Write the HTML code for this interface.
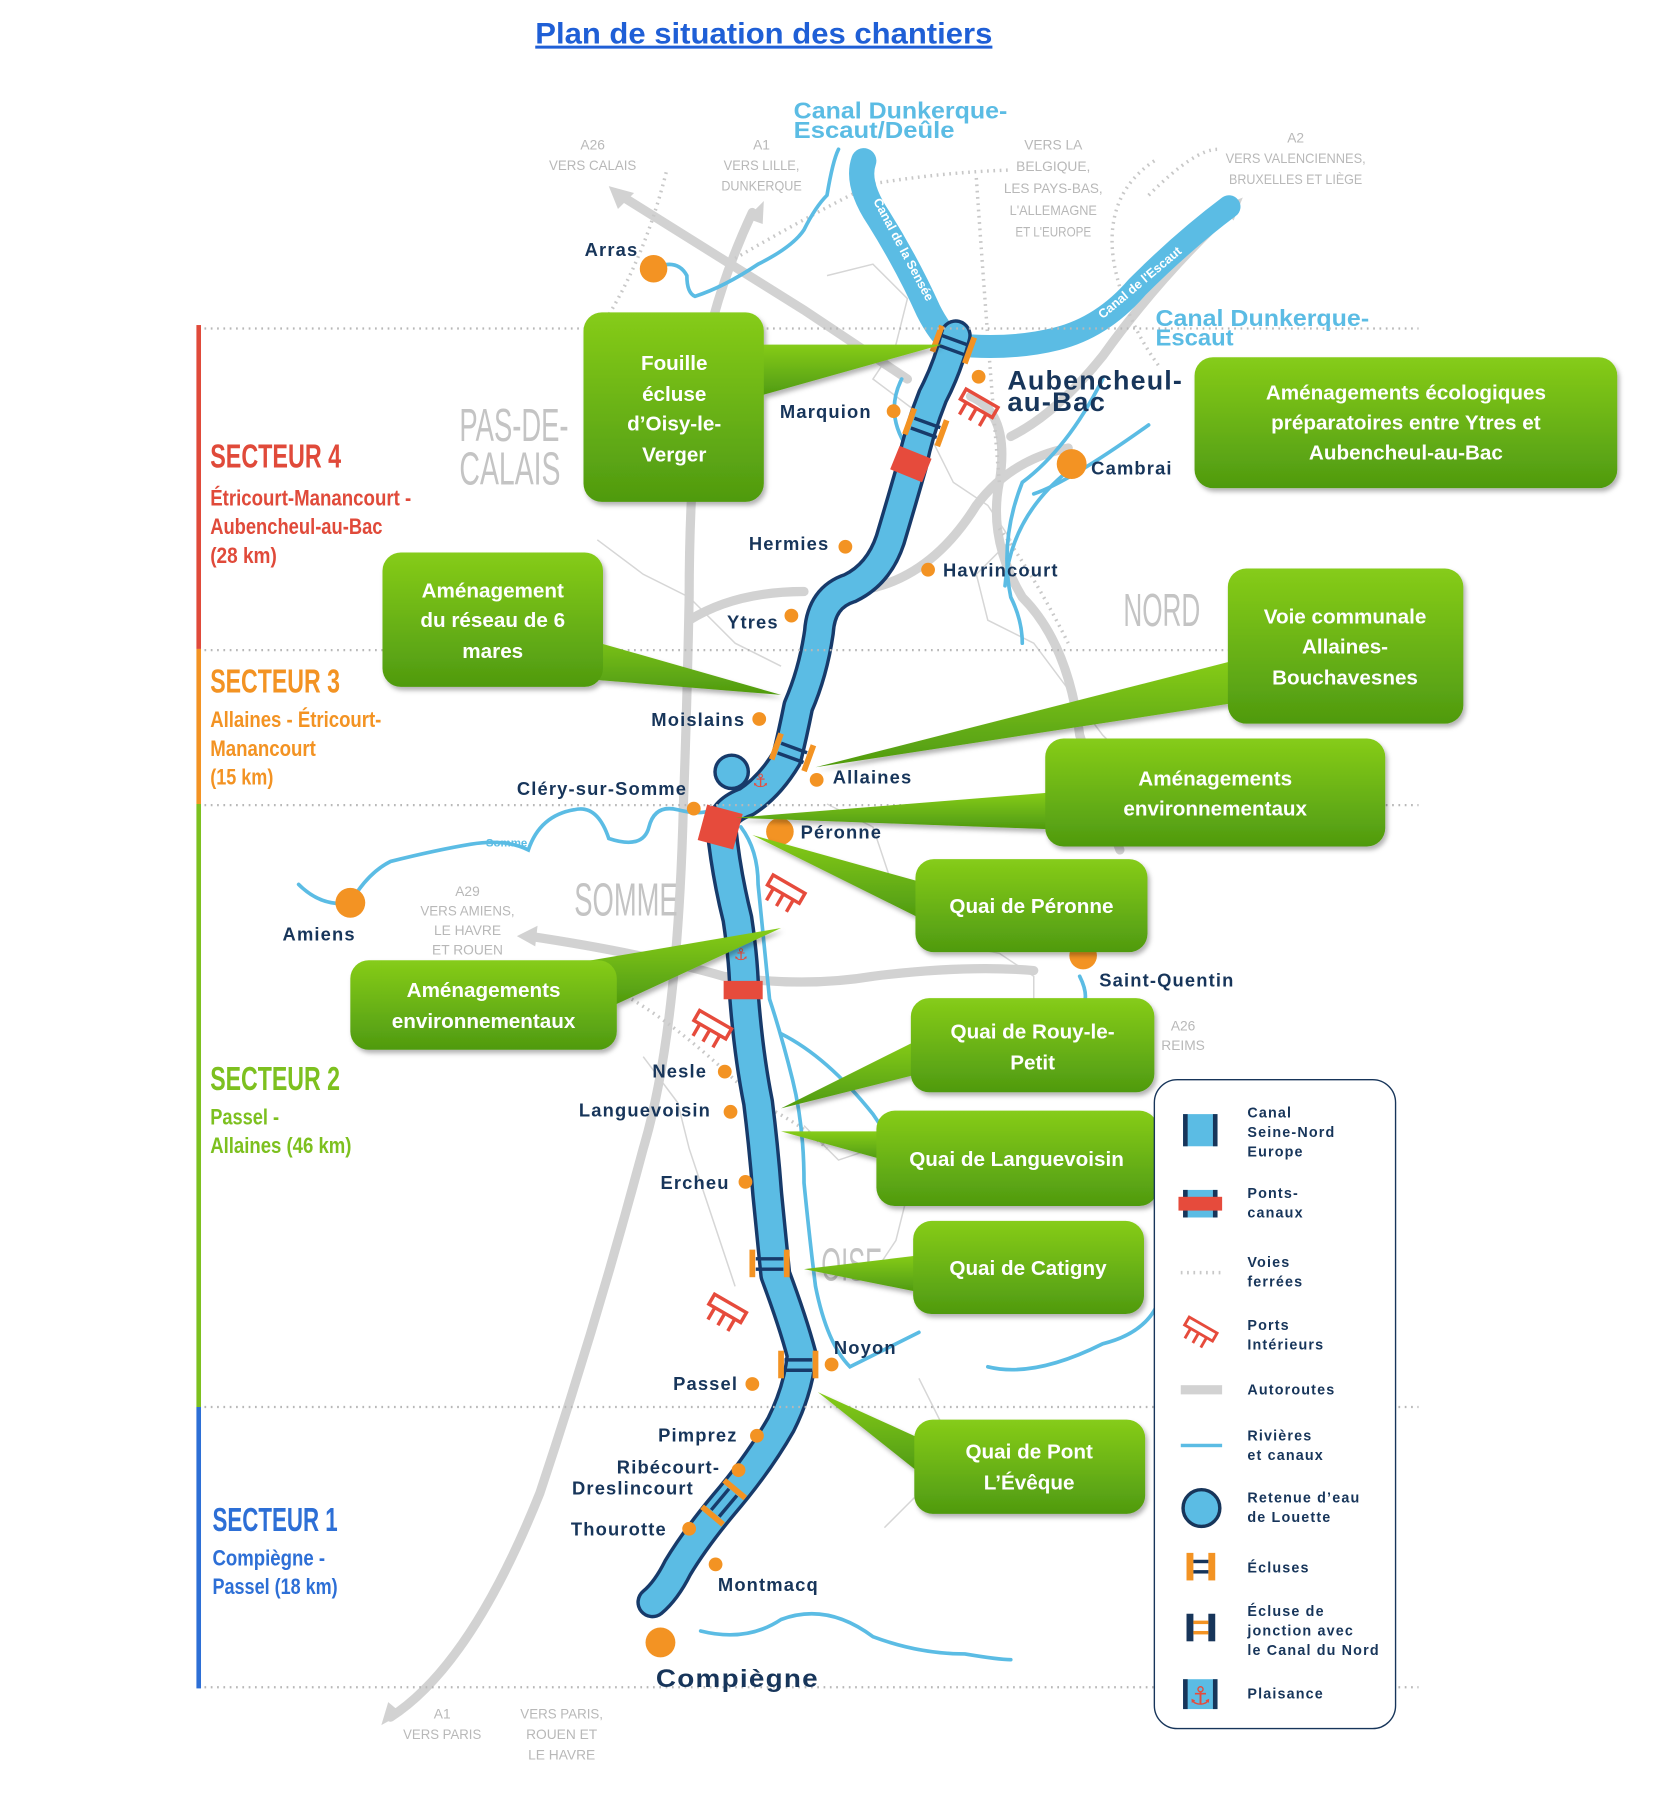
<!DOCTYPE html>
<html><head><meta charset="utf-8"><style>
html,body{margin:0;padding:0;background:#fff;}
svg{display:block;}
.city{font-family:"Liberation Sans",sans-serif;font-weight:bold;font-size:16px;fill:#17355a;letter-spacing:1px;}
.cw{font-family:"Liberation Sans",sans-serif;font-weight:bold;font-size:18px;fill:#fff;text-anchor:middle;}
.gl{font-family:"Liberation Sans",sans-serif;fill:#b8b8b8;font-size:12px;text-anchor:middle;}
.big{font-family:"Liberation Sans",sans-serif;fill:#c4c4c4;font-size:40px;}
.sec{font-family:"Liberation Sans",sans-serif;font-weight:bold;font-size:29px;}
.sub{font-family:"Liberation Sans",sans-serif;font-weight:bold;font-size:19px;}
.lg{font-family:"Liberation Sans",sans-serif;font-weight:bold;font-size:12.5px;fill:#17355a;letter-spacing:1px;}
.bl{font-family:"Liberation Sans",sans-serif;font-weight:bold;fill:#5bbce4;}
</style></head><body>
<svg width="1654" height="1809" viewBox="0 0 1440 1575" preserveAspectRatio="none" xmlns="http://www.w3.org/2000/svg">
<defs>
<linearGradient id="g" x1="0" y1="0" x2="0" y2="1"><stop offset="0" stop-color="#86cc1a"/><stop offset="1" stop-color="#4f9a10"/></linearGradient>
<filter id="sh" x="-10%" y="-10%" width="130%" height="130%"><feDropShadow dx="2" dy="3" stdDeviation="2" flood-color="#000" flood-opacity="0.3"/></filter>
</defs>
<text x="665" y="38" text-anchor="middle" font-family="Liberation Sans,sans-serif" font-weight="bold" font-size="26" fill="#1f5fd6" text-decoration="underline" textLength="398" lengthAdjust="spacingAndGlyphs">Plan de situation des chantiers</text>

<g fill="none" stroke="#d6d6d6" stroke-width="1.3">
<path d="M720 240 L760 230 L790 260 L780 300 L760 330 L800 360 L830 420 L860 440 L880 470 L850 500 L860 540 L900 560 L930 600 L960 640 L1000 680 L1040 700"/>
<path d="M520 470 L560 500 L600 520 L640 560 L680 580"/>
<path d="M720 700 L760 720 L780 780 L820 820 L870 830 L900 850 L900 880"/>
<path d="M700 980 L730 1010 L760 1000 L790 1040 L780 1080 L760 1110"/>
<path d="M800 1200 L820 1240 L800 1300 L770 1330"/>
<path d="M560 920 L590 960 L600 1000 L620 1060 L640 1120"/>
</g>

<g fill="none" stroke="#d2d2d2" stroke-width="8" stroke-linecap="round">
<path d="M540 170 Q620 220 700 270 Q760 310 790 330"/>
<path d="M655 185 Q620 260 610 330 Q600 420 600 520 Q598 620 595 700 Q590 900 560 1000 Q520 1150 470 1300 Q410 1450 340 1495"/>
<path d="M845 345 Q880 360 870 420 Q860 470 890 520 Q930 560 940 640 Q960 700 975 740"/>
<path d="M700 515 Q640 515 600 540"/>
<path d="M720 515 Q800 520 850 440 Q880 400 930 390"/>
<path d="M1075 180 Q1010 240 960 310 Q920 360 880 380"/>
<path d="M460 815 Q560 830 630 850 Q700 860 760 850 Q840 840 900 845"/>
</g>
<g fill="#d2d2d2"><path d="M530 162 L552 168 L538 182 Z"/><path d="M665 175 L650 190 L664 195 Z"/><path d="M1082 172 L1062 180 L1074 192 Z"/><path d="M450 815 L468 806 L466 824 Z"/><path d="M332 1502 L338 1482 L350 1492 Z"/></g>

<g fill="none" stroke="#c8c8c8" stroke-width="3" stroke-dasharray="1.5 4">
<path d="M580 150 Q560 230 520 290"/>
<path d="M640 225 Q700 190 760 160 Q820 150 880 148"/>
<path d="M850 155 Q860 300 870 420"/>
<path d="M1005 140 Q960 170 970 230 Q980 280 1010 320"/>
<path d="M1000 170 Q1040 130 1060 130"/>
<path d="M870 460 Q900 500 930 560"/>
<path d="M550 870 Q600 900 660 960 Q700 980 720 1000"/>
</g>

<g fill="none" stroke="#5bbce4" stroke-width="3.2" stroke-linecap="round">
<path d="M570 233 Q590 225 598 240 Q598 255 605 258 Q630 250 660 230 Q690 215 700 200 Q710 180 720 170 Q725 140 730 130"/>
<path d="M260 770 Q280 790 305 786 Q320 760 340 750 Q380 740 410 735 Q440 730 460 740 Q470 710 500 705 Q520 700 530 730 Q560 740 565 720 Q570 700 590 705 Q610 710 620 705"/>
<path d="M785 330 Q770 360 790 390 Q780 420 790 440"/>
<path d="M960 330 Q930 390 890 420 Q870 470 880 520 Q890 540 890 560"/>
<path d="M1000 370 Q930 420 900 430"/>
<path d="M930 410 Q880 450 875 510"/>
<path d="M645 720 Q660 740 660 770 Q665 820 670 870 Q680 900 690 940 Q700 980 700 1030 Q705 1080 710 1120 Q720 1170 740 1190 Q780 1170 800 1160"/>
<path d="M680 900 Q720 920 760 970 Q780 1000 790 1010"/>
<path d="M940 850 Q950 870 940 880"/>
<path d="M610 1420 Q650 1430 680 1410 Q720 1395 760 1425 Q800 1440 840 1440 Q870 1445 880 1445"/>
<path d="M1010 1130 Q1000 1160 960 1170 Q900 1200 860 1190"/>
</g>

<g fill="none" stroke-linecap="round">
<path d="M752 140 Q745 160 765 190 Q790 230 808 270 Q818 290 830 300" stroke="#5bbce4" stroke-width="22"/>
<path d="M830 300 Q880 305 920 295 Q960 285 990 250 Q1030 210 1070 180" stroke="#5bbce4" stroke-width="20"/>
</g>
<text class="bl" font-size="11" transform="translate(760 175) rotate(62)" style="fill:#fff">Canal de la Sensée</text>
<text class="bl" font-size="11" transform="translate(960 278) rotate(-40)" style="fill:#fff">Canal de l'Escaut</text>

<path d="M832 292 Q825 320 812 345 Q800 375 794 405 Q784 440 775 470 Q765 500 740 512 Q715 520 713 550 Q708 585 695 615 Q690 640 685 660 Q670 685 650 698 Q630 705 628 720 Q632 760 642 800 Q648 840 648 870 Q652 920 660 960 Q665 1000 668 1040 Q672 1080 675 1110 Q690 1150 698 1180 Q695 1210 680 1240 Q660 1275 630 1310 Q605 1340 590 1365 Q580 1385 568 1395" fill="none" stroke="#173a6a" stroke-width="28" stroke-linecap="round" stroke-linejoin="round"/>
<circle cx="637" cy="672" r="16" fill="#173a6a"/>
<path d="M832 292 Q825 320 812 345 Q800 375 794 405 Q784 440 775 470 Q765 500 740 512 Q715 520 713 550 Q708 585 695 615 Q690 640 685 660 Q670 685 650 698 Q630 705 628 720 Q632 760 642 800 Q648 840 648 870 Q652 920 660 960 Q665 1000 668 1040 Q672 1080 675 1110 Q690 1150 698 1180 Q695 1210 680 1240 Q660 1275 630 1310 Q605 1340 590 1365 Q580 1385 568 1395" fill="none" stroke="#5bbce4" stroke-width="22" stroke-linecap="round" stroke-linejoin="round"/>
<circle cx="637" cy="672" r="13" fill="#5bbce4"/>
<text class="bl" font-size="11" transform="translate(545 1425) rotate(-50)" style="fill:#fff">Oise</text>

<g stroke-width="5">
<g transform="translate(830 300) rotate(20)"><line x1="-15" y1="-12" x2="-15" y2="12" stroke="#f39323"/><line x1="15" y1="-12" x2="15" y2="12" stroke="#f39323"/><line x1="-12" y1="-4" x2="12" y2="-4" stroke="#173a6a" stroke-width="3"/><line x1="-12" y1="5" x2="12" y2="5" stroke="#173a6a" stroke-width="3"/></g>
<g transform="translate(806 372) rotate(20)"><line x1="-15" y1="-12" x2="-15" y2="12" stroke="#f39323"/><line x1="15" y1="-12" x2="15" y2="12" stroke="#f39323"/><line x1="-12" y1="-4" x2="12" y2="-4" stroke="#173a6a" stroke-width="3"/><line x1="-12" y1="5" x2="12" y2="5" stroke="#173a6a" stroke-width="3"/></g>
<g transform="translate(690 655) rotate(20)"><line x1="-15" y1="-12" x2="-15" y2="12" stroke="#f39323"/><line x1="15" y1="-12" x2="15" y2="12" stroke="#f39323"/><line x1="-12" y1="-4" x2="12" y2="-4" stroke="#173a6a" stroke-width="3"/><line x1="-12" y1="5" x2="12" y2="5" stroke="#173a6a" stroke-width="3"/></g>
<g transform="translate(670 1100)"><line x1="-15" y1="-12" x2="-15" y2="12" stroke="#f39323"/><line x1="15" y1="-12" x2="15" y2="12" stroke="#f39323"/><line x1="-12" y1="-4" x2="12" y2="-4" stroke="#173a6a" stroke-width="3"/><line x1="-12" y1="5" x2="12" y2="5" stroke="#173a6a" stroke-width="3"/></g>
<g transform="translate(695 1188)"><line x1="-15" y1="-12" x2="-15" y2="12" stroke="#f39323"/><line x1="15" y1="-12" x2="15" y2="12" stroke="#f39323"/><line x1="-12" y1="-4" x2="12" y2="-4" stroke="#173a6a" stroke-width="3"/><line x1="-12" y1="5" x2="12" y2="5" stroke="#173a6a" stroke-width="3"/></g>
<g transform="translate(630 1308) rotate(-50)"><line x1="-15" y1="-12" x2="-15" y2="12" stroke="#f39323"/><line x1="15" y1="-12" x2="15" y2="12" stroke="#f39323"/><line x1="-12" y1="-4" x2="12" y2="-4" stroke="#173a6a" stroke-width="3"/><line x1="-12" y1="5" x2="12" y2="5" stroke="#173a6a" stroke-width="3"/></g>
</g>
<rect x="-15" y="-11" width="30" height="22" fill="#e64b3c" transform="translate(793 404) rotate(22)"/>
<rect x="-16" y="-16" width="32" height="32" fill="#e64b3c" transform="translate(627 720) rotate(15)"/>
<rect x="-17" y="-8" width="34" height="16" fill="#e64b3c" transform="translate(647 862)"/>
<text x="662" y="685" font-size="16" fill="#e64b3c" text-anchor="middle" font-family="DejaVu Sans,sans-serif">⚓</text>
<text x="645" y="836" font-size="14" fill="#e64b3c" text-anchor="middle" font-family="DejaVu Sans,sans-serif">⚓</text>
<g fill="none" stroke="#e64b3c" stroke-width="3">
<g transform="translate(852 352) rotate(30)"><rect x="-16" y="-6" width="32" height="10"/><line x1="-10" y1="4" x2="-10" y2="16"/><line x1="0" y1="4" x2="0" y2="16"/><line x1="10" y1="4" x2="10" y2="16"/></g>
<g transform="translate(684 775) rotate(30)"><rect x="-16" y="-6" width="32" height="10"/><line x1="-10" y1="4" x2="-10" y2="16"/><line x1="0" y1="4" x2="0" y2="16"/><line x1="10" y1="4" x2="10" y2="16"/></g>
<g transform="translate(620 893) rotate(30)"><rect x="-16" y="-6" width="32" height="10"/><line x1="-10" y1="4" x2="-10" y2="16"/><line x1="0" y1="4" x2="0" y2="16"/><line x1="10" y1="4" x2="10" y2="16"/></g>
<g transform="translate(633 1140) rotate(30)"><rect x="-16" y="-6" width="32" height="10"/><line x1="-10" y1="4" x2="-10" y2="16"/><line x1="0" y1="4" x2="0" y2="16"/><line x1="10" y1="4" x2="10" y2="16"/></g>
</g>

<text class="gl" x="516" y="130">A26</text><text class="gl" x="516" y="148" textLength="76" lengthAdjust="spacingAndGlyphs">VERS CALAIS</text>
<text class="gl" x="663" y="130">A1</text><text class="gl" x="663" y="148" textLength="66" lengthAdjust="spacingAndGlyphs">VERS LILLE,</text><text class="gl" x="663" y="166" textLength="70" lengthAdjust="spacingAndGlyphs">DUNKERQUE</text>
<text class="gl" x="917" y="130">VERS LA</text><text class="gl" x="917" y="149">BELGIQUE,</text><text class="gl" x="917" y="168" textLength="86" lengthAdjust="spacingAndGlyphs">LES PAYS-BAS,</text><text class="gl" x="917" y="187" textLength="76" lengthAdjust="spacingAndGlyphs">L'ALLEMAGNE</text><text class="gl" x="917" y="206" textLength="66" lengthAdjust="spacingAndGlyphs">ET L'EUROPE</text>
<text class="gl" x="1128" y="124">A2</text><text class="gl" x="1128" y="142" textLength="122" lengthAdjust="spacingAndGlyphs">VERS VALENCIENNES,</text><text class="gl" x="1128" y="160" textLength="116" lengthAdjust="spacingAndGlyphs">BRUXELLES ET LIÈGE</text>
<text class="gl" x="407" y="780">A29</text><text class="gl" x="407" y="797" textLength="82" lengthAdjust="spacingAndGlyphs">VERS AMIENS,</text><text class="gl" x="407" y="814">LE HAVRE</text><text class="gl" x="407" y="831">ET ROUEN</text>
<text class="gl" x="1030" y="897">A26</text><text class="gl" x="1030" y="914">REIMS</text>
<text class="gl" x="385" y="1496">A1</text><text class="gl" x="385" y="1514" textLength="68" lengthAdjust="spacingAndGlyphs">VERS PARIS</text>
<text class="gl" x="489" y="1496" textLength="72" lengthAdjust="spacingAndGlyphs">VERS PARIS,</text><text class="gl" x="489" y="1514">ROUEN ET</text><text class="gl" x="489" y="1532">LE HAVRE</text>
<text class="big" x="400" y="384" textLength="95" lengthAdjust="spacingAndGlyphs">PAS-DE-</text><text class="big" x="400" y="422" textLength="88" lengthAdjust="spacingAndGlyphs">CALAIS</text>
<text class="big" x="978" y="545" textLength="67" lengthAdjust="spacingAndGlyphs">NORD</text>
<text class="big" x="500" y="797" textLength="90" lengthAdjust="spacingAndGlyphs">SOMME</text>
<text class="big" x="715" y="1115" textLength="53" lengthAdjust="spacingAndGlyphs">OISE</text>
<text class="bl" x="691" y="103" font-size="20" textLength="186" lengthAdjust="spacingAndGlyphs">Canal Dunkerque-</text><text class="bl" x="691" y="120" font-size="20" textLength="140" lengthAdjust="spacingAndGlyphs">Escaut/Deûle</text>
<text class="bl" x="1006" y="284" font-size="20" textLength="186" lengthAdjust="spacingAndGlyphs">Canal Dunkerque-</text><text class="bl" x="1006" y="301" font-size="20" textLength="68" lengthAdjust="spacingAndGlyphs">Escaut</text>
<text class="bl" x="423" y="737" font-size="10">Somme</text>

<rect x="171" y="283" width="4" height="282" fill="#e04a3a"/>
<rect x="171" y="565" width="4" height="135" fill="#f39323"/>
<rect x="171" y="700" width="4" height="525" fill="#7dc01f"/>
<rect x="171" y="1225" width="4" height="245" fill="#2d6fd6"/>
<g stroke="#b8b8b8" stroke-width="2" stroke-dasharray="1.5 4">
<line x1="178" y1="286" x2="1235" y2="286"/><line x1="178" y1="566" x2="1235" y2="566"/>
<line x1="178" y1="701" x2="1235" y2="701"/><line x1="178" y1="1225" x2="1235" y2="1225"/><line x1="178" y1="1469" x2="1235" y2="1469"/>
</g>
<g lengthAdjust="spacingAndGlyphs">
<text class="sec" x="183" y="407" fill="#e04a3a" textLength="114" lengthAdjust="spacingAndGlyphs">SECTEUR 4</text>
<text class="sub" x="183" y="440" fill="#e04a3a" textLength="175" lengthAdjust="spacingAndGlyphs">Étricourt-Manancourt -</text><text class="sub" x="183" y="465" fill="#e04a3a" textLength="150" lengthAdjust="spacingAndGlyphs">Aubencheul-au-Bac</text><text class="sub" x="183" y="490" fill="#e04a3a" textLength="58" lengthAdjust="spacingAndGlyphs">(28 km)</text>
<text class="sec" x="183" y="603" fill="#f39323" textLength="113" lengthAdjust="spacingAndGlyphs">SECTEUR 3</text>
<text class="sub" x="183" y="633" fill="#f39323" textLength="149" lengthAdjust="spacingAndGlyphs">Allaines - Étricourt-</text><text class="sub" x="183" y="658" fill="#f39323" textLength="92" lengthAdjust="spacingAndGlyphs">Manancourt</text><text class="sub" x="183" y="683" fill="#f39323" textLength="55" lengthAdjust="spacingAndGlyphs">(15 km)</text>
<text class="sec" x="183" y="949" fill="#7dc01f" textLength="113" lengthAdjust="spacingAndGlyphs">SECTEUR 2</text>
<text class="sub" x="183" y="979" fill="#7dc01f" textLength="60" lengthAdjust="spacingAndGlyphs">Passel -</text><text class="sub" x="183" y="1004" fill="#7dc01f" textLength="123" lengthAdjust="spacingAndGlyphs">Allaines (46 km)</text>
<text class="sec" x="185" y="1333" fill="#2d6fd6" textLength="109" lengthAdjust="spacingAndGlyphs">SECTEUR 1</text>
<text class="sub" x="185" y="1363" fill="#2d6fd6" textLength="98" lengthAdjust="spacingAndGlyphs">Compiègne -</text><text class="sub" x="185" y="1388" fill="#2d6fd6" textLength="109" lengthAdjust="spacingAndGlyphs">Passel (18 km)</text>
</g>

<g fill="#f39323">
<circle cx="569" cy="234" r="12"/><circle cx="852" cy="328" r="6"/><circle cx="778" cy="358" r="6"/><circle cx="933" cy="404" r="13"/>
<circle cx="736" cy="476" r="6"/><circle cx="808" cy="496" r="6"/><circle cx="689" cy="536" r="6"/><circle cx="661" cy="626" r="6"/>
<circle cx="711" cy="679" r="6"/><circle cx="604" cy="704" r="6"/><circle cx="679" cy="724" r="12"/><circle cx="305" cy="786" r="13"/>
<circle cx="943" cy="832" r="12"/><circle cx="631" cy="933" r="6"/><circle cx="636" cy="968" r="6"/><circle cx="649" cy="1029" r="6"/>
<circle cx="724" cy="1188" r="6"/><circle cx="655" cy="1205" r="6"/><circle cx="659" cy="1250" r="6"/><circle cx="643" cy="1280" r="6"/>
<circle cx="600" cy="1331" r="6"/><circle cx="623" cy="1362" r="6"/><circle cx="575" cy="1430" r="13"/>
</g>
<text class="city" x="509" y="223">Arras</text>
<text class="city" x="877" y="339" style="font-size:23px" textLength="153" lengthAdjust="spacingAndGlyphs">Aubencheul-</text><text class="city" x="877" y="358" style="font-size:23px" textLength="86" lengthAdjust="spacingAndGlyphs">au-Bac</text>
<text class="city" x="679" y="364">Marquion</text><text class="city" x="950" y="413">Cambrai</text>
<text class="city" x="652" y="479">Hermies</text><text class="city" x="821" y="502">Havrincourt</text>
<text class="city" x="633" y="547">Ytres</text><text class="city" x="567" y="632">Moislains</text>
<text class="city" x="725" y="682">Allaines</text><text class="city" x="450" y="692">Cléry-sur-Somme</text>
<text class="city" x="697" y="730">Péronne</text><text class="city" x="246" y="819">Amiens</text>
<text class="city" x="957" y="859">Saint-Quentin</text><text class="city" x="568" y="938">Nesle</text>
<text class="city" x="504" y="972">Languevoisin</text><text class="city" x="575" y="1035">Ercheu</text>
<text class="city" x="726" y="1179">Noyon</text><text class="city" x="586" y="1210">Passel</text>
<text class="city" x="573" y="1255">Pimprez</text><text class="city" x="537" y="1283">Ribécourt-</text><text class="city" x="498" y="1301">Dreslincourt</text>
<text class="city" x="497" y="1337">Thourotte</text><text class="city" x="625" y="1385">Montmacq</text>
<text class="city" x="571" y="1469" style="font-size:22px" textLength="142" lengthAdjust="spacingAndGlyphs">Compiègne</text>

<g fill="url(#g)" filter="url(#sh)">
<path d="M660 300 L820 300 L660 345 Z"/><rect x="508" y="272" width="157" height="165" rx="16"/>
<rect x="1040" y="311" width="368" height="114" rx="16"/>
<path d="M470 545 L680 605 L520 592 Z"/><rect x="333" y="481" width="192" height="117" rx="16"/>
<path d="M1075 575 L710 668 L1075 612 Z"/><rect x="1069" y="495" width="205" height="135" rx="16"/>
<path d="M915 690 L640 712 L915 722 Z"/><rect x="910" y="643" width="296" height="94" rx="16"/>
<path d="M802 768 L655 727 L802 800 Z"/><rect x="797" y="748" width="202" height="81" rx="16"/>
<path d="M480 842 L680 808 L535 875 Z"/><rect x="305" y="836" width="232" height="78" rx="16"/>
<path d="M800 905 L680 965 L800 935 Z"/><rect x="793" y="869" width="212" height="82" rx="16"/>
<path d="M770 985 L680 985 L770 1010 Z"/><rect x="763" y="967" width="245" height="83" rx="16"/>
<path d="M800 1093 L700 1105 L800 1125 Z"/><rect x="795" y="1063" width="201" height="81" rx="16"/>
<path d="M800 1252 L712 1212 L800 1282 Z"/><rect x="796" y="1236" width="201" height="82" rx="16"/>
</g>
<g>
<text class="cw" x="587" y="322">Fouille</text><text class="cw" x="587" y="349">écluse</text><text class="cw" x="587" y="375">d’Oisy-le-</text><text class="cw" x="587" y="402">Verger</text>
<text class="cw" x="1224" y="348">Aménagements écologiques</text><text class="cw" x="1224" y="374">préparatoires entre Ytres et</text><text class="cw" x="1224" y="400">Aubencheul-au-Bac</text>
<text class="cw" x="429" y="520">Aménagement</text><text class="cw" x="429" y="546">du réseau de 6</text><text class="cw" x="429" y="573">mares</text>
<text class="cw" x="1171" y="543">Voie communale</text><text class="cw" x="1171" y="569">Allaines-</text><text class="cw" x="1171" y="596">Bouchavesnes</text>
<text class="cw" x="1058" y="684">Aménagements</text><text class="cw" x="1058" y="710">environnementaux</text>
<text class="cw" x="898" y="795">Quai de Péronne</text>
<text class="cw" x="421" y="868">Aménagements</text><text class="cw" x="421" y="895">environnementaux</text>
<text class="cw" x="899" y="904">Quai de Rouy-le-</text><text class="cw" x="899" y="931">Petit</text>
<text class="cw" x="885" y="1015">Quai de Languevoisin</text>
<text class="cw" x="895" y="1110">Quai de Catigny</text>
<text class="cw" x="896" y="1270">Quai de Pont</text><text class="cw" x="896" y="1297">L’Évêque</text>
</g>

<rect x="1005" y="940" width="210" height="565" rx="20" fill="#fff" stroke="#17355a" stroke-width="1.2"/>
<g>
<rect x="1030" y="970" width="30" height="28" fill="#5bbce4"/><rect x="1030" y="970" width="4" height="28" fill="#17355a"/><rect x="1056" y="970" width="4" height="28" fill="#17355a"/>
<text class="lg" x="1086" y="973">Canal</text><text class="lg" x="1086" y="990">Seine-Nord</text><text class="lg" x="1086" y="1007">Europe</text>
<rect x="1030" y="1036" width="30" height="24" fill="#5bbce4"/><rect x="1030" y="1036" width="4" height="24" fill="#17355a"/><rect x="1056" y="1036" width="4" height="24" fill="#17355a"/><rect x="1026" y="1042" width="38" height="12" fill="#e64b3c"/>
<text class="lg" x="1086" y="1043">Ponts-</text><text class="lg" x="1086" y="1060">canaux</text>
<line x1="1028" y1="1108" x2="1064" y2="1108" stroke="#c8c8c8" stroke-width="3" stroke-dasharray="1.5 4"/>
<text class="lg" x="1086" y="1103">Voies</text><text class="lg" x="1086" y="1120">ferrées</text>
<g fill="none" stroke="#e64b3c" stroke-width="2.5" transform="translate(1045 1158) rotate(30)"><rect x="-14" y="-5" width="28" height="8"/><line x1="-8" y1="3" x2="-8" y2="13"/><line x1="0" y1="3" x2="0" y2="13"/><line x1="8" y1="3" x2="8" y2="13"/></g>
<text class="lg" x="1086" y="1158">Ports</text><text class="lg" x="1086" y="1175">Intérieurs</text>
<rect x="1028" y="1206" width="36" height="8" fill="#d2d2d2"/>
<text class="lg" x="1086" y="1214">Autoroutes</text>
<rect x="1028" y="1257" width="36" height="3" fill="#5bbce4"/>
<text class="lg" x="1086" y="1254">Rivières</text><text class="lg" x="1086" y="1271">et canaux</text>
<circle cx="1046" cy="1313" r="16" fill="#5bbce4" stroke="#17355a" stroke-width="3"/>
<text class="lg" x="1086" y="1308">Retenue d’eau</text><text class="lg" x="1086" y="1325">de Louette</text>
<rect x="1033" y="1352" width="6" height="24" fill="#f39323"/><rect x="1052" y="1352" width="6" height="24" fill="#f39323"/><rect x="1039" y="1358" width="13" height="3" fill="#17355a"/><rect x="1039" y="1367" width="13" height="3" fill="#17355a"/>
<text class="lg" x="1086" y="1369">Écluses</text>
<rect x="1033" y="1405" width="6" height="24" fill="#17355a"/><rect x="1052" y="1405" width="6" height="24" fill="#17355a"/><rect x="1039" y="1411" width="13" height="3" fill="#f39323"/><rect x="1039" y="1420" width="13" height="3" fill="#f39323"/>
<text class="lg" x="1086" y="1407">Écluse de</text><text class="lg" x="1086" y="1424">jonction avec</text><text class="lg" x="1086" y="1441">le Canal du Nord</text>
<rect x="1030" y="1462" width="30" height="26" fill="#5bbce4"/><rect x="1030" y="1462" width="4" height="26" fill="#17355a"/><rect x="1056" y="1462" width="4" height="26" fill="#17355a"/>
<text x="1045" y="1484" font-size="22" fill="#e64b3c" text-anchor="middle" font-family="DejaVu Sans,sans-serif">⚓</text>
<text class="lg" x="1086" y="1479">Plaisance</text>
</g>
</svg>
</body></html>
